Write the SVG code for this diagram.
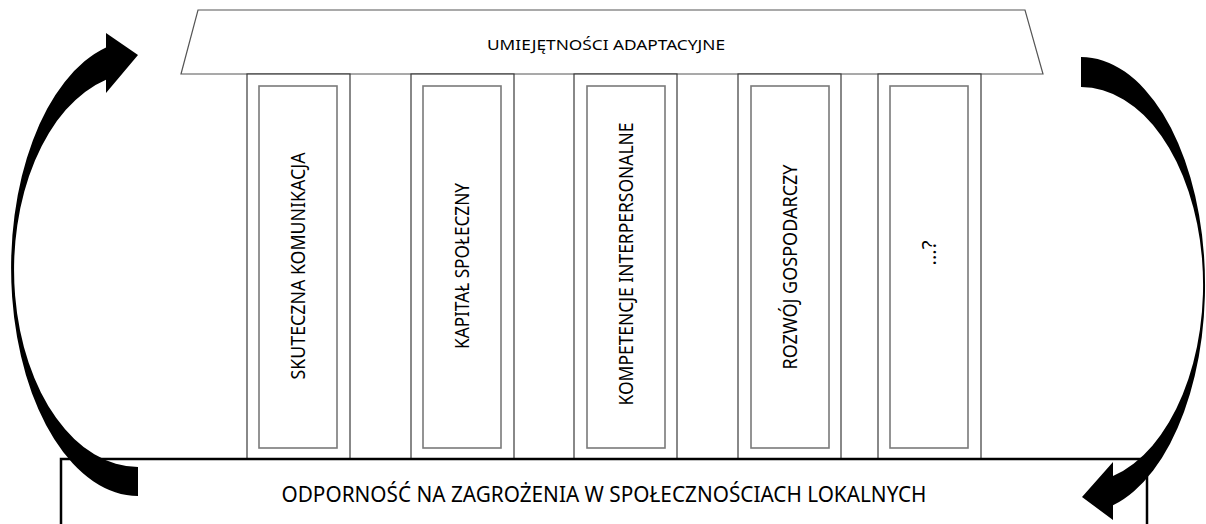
<svg xmlns="http://www.w3.org/2000/svg" width="1206" height="524" viewBox="0 0 1206 524">
<style>
.pillar{fill:#fff;stroke:#3a3a3a;stroke-width:1.2}
.inner{fill:#fff;stroke:#7a7a7a;stroke-width:1.6}
.vt{font-family:"Noto Sans","Liberation Sans",sans-serif;font-size:19px;fill:#000;text-anchor:middle}
.arrow{fill:#000;stroke:none}
</style>
<rect width="1206" height="524" fill="#fff"/>
<g id="roof">
<polygon points="198,10 1025,10 1043,74 181,74" fill="#fff" stroke="#555" stroke-width="1.2"/>
<text x="606" y="50" font-family="Noto Sans, Liberation Sans, sans-serif" font-size="15" text-anchor="middle" textLength="238" lengthAdjust="spacingAndGlyphs">UMIEJĘTNOŚCI ADAPTACYJNE</text>
</g>
<g id="pillar1">
<rect class="pillar" x="247" y="74" width="103" height="385"/>
<rect class="inner" x="259" y="86" width="78" height="362"/>
<text class="vt" transform="translate(305,266) rotate(-90)" textLength="227" lengthAdjust="spacingAndGlyphs">SKUTECZNA KOMUNIKACJA</text>
</g>
<g id="pillar2">
<rect class="pillar" x="411" y="74" width="103" height="385"/>
<rect class="inner" x="423" y="86" width="78" height="362"/>
<text class="vt" transform="translate(469,266) rotate(-90)" textLength="166" lengthAdjust="spacingAndGlyphs">KAPITAŁ SPOŁECZNY</text>
</g>
<g id="pillar3">
<rect class="pillar" x="574" y="74" width="103" height="385"/>
<rect class="inner" x="587" y="86" width="78" height="362"/>
<text class="vt" transform="translate(633,264) rotate(-90)" textLength="283" lengthAdjust="spacingAndGlyphs">KOMPETENCJE INTERPERSONALNE</text>
</g>
<g id="pillar4">
<rect class="pillar" x="738" y="74" width="103" height="385"/>
<rect class="inner" x="751" y="86" width="78" height="362"/>
<text class="vt" transform="translate(797,267) rotate(-90)" textLength="205" lengthAdjust="spacingAndGlyphs">ROZWÓJ GOSPODARCZY</text>
</g>
<g id="pillar5">
<rect class="pillar" x="878" y="74" width="103" height="385"/>
<rect class="inner" x="890" y="86" width="78" height="362"/>
<text class="vt" transform="translate(936,253) rotate(-90)" textLength="25" lengthAdjust="spacingAndGlyphs">...?</text>
</g>
<g id="base">
<rect x="61" y="459" width="1086" height="90" fill="#fff" stroke="#000" stroke-width="2.5"/>
<text x="604" y="502" font-family="Noto Sans, Liberation Sans, sans-serif" font-size="22" text-anchor="middle" textLength="645" lengthAdjust="spacingAndGlyphs">ODPORNOŚĆ NA ZAGROŻENIA W SPOŁECZNOŚCIACH LOKALNYCH</text>
</g>
<g id="connectors">
<path class="arrow" d="M138,496 A127,228 0 0 1 106,47.4 L106,33 L138,55 L106,93 L106,79.7 A124,197 0 0 0 138,467 Z"/>
<path class="arrow" d="M1081,57 A124,228 0 0 1 1113,505.3 L1113,520 L1082,497 L1113,462 L1113,476.1 A122,198 0 0 0 1081,87 Z"/>
</g>
</svg>
